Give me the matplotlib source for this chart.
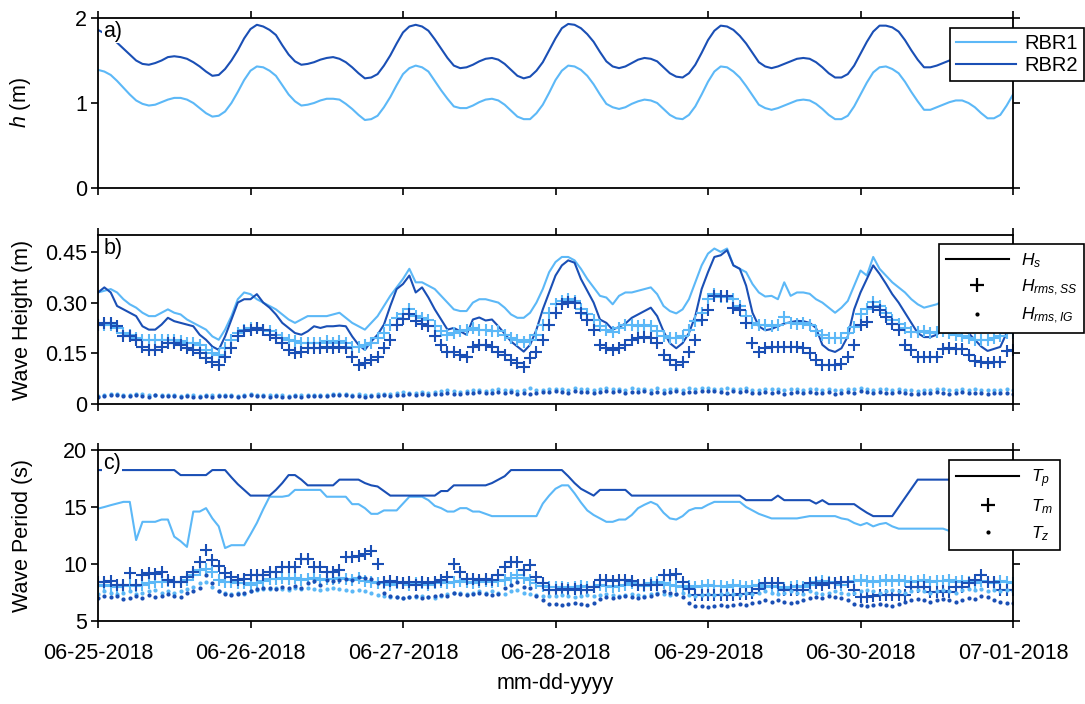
import matplotlib as mpl
mpl.use('Agg')
import matplotlib.pyplot as plt
from matplotlib.lines import Line2D
import pandas as pd

mpl.rcParams.update({
    'font.family': 'Liberation Sans',
    'mathtext.fontset': 'custom',
    'mathtext.rm': 'Liberation Sans',
    'mathtext.it': 'Liberation Sans:italic',
    'axes.linewidth': 1.3,
    'xtick.direction': 'out',
    'ytick.direction': 'out',
    'xtick.major.size': 5,
    'ytick.major.size': 5,
    'xtick.major.width': 1.2,
    'ytick.major.width': 1.2,
})

LIGHT = '#5cb8f7'
DARK = '#1a4fb5'

# hourly time axis, 06-25 00:00 to 07-01 00:00
t = pd.date_range('2018-06-25', periods=145, freq='h')

# --- panel a: water depth (m) ---
h_rbr1 = [1.39, 1.37, 1.33, 1.26, 1.18, 1.10, 1.03, 0.99, 0.97, 0.98, 1.01, 1.04,
          1.06, 1.06, 1.04, 1.00, 0.94, 0.88, 0.84, 0.85, 0.90, 1.00, 1.13, 1.27,
          1.38, 1.43, 1.42, 1.38, 1.32, 1.21, 1.10, 1.02, 0.97, 0.98, 1.00, 1.03,
          1.05, 1.05, 1.04, 0.99, 0.93, 0.86, 0.80, 0.81, 0.85, 0.95, 1.07, 1.21,
          1.34, 1.41, 1.44, 1.42, 1.37, 1.26, 1.15, 1.05, 0.96, 0.94, 0.94, 0.97,
          1.01, 1.04, 1.05, 1.03, 0.98, 0.91, 0.84, 0.81, 0.81, 0.88, 0.98, 1.12,
          1.27, 1.38, 1.44, 1.43, 1.39, 1.32, 1.22, 1.10, 0.99, 0.95, 0.93, 0.95,
          0.99, 1.02, 1.04, 1.03, 1.00, 0.93, 0.86, 0.82, 0.81, 0.86, 0.96, 1.10,
          1.25, 1.37, 1.43, 1.42, 1.37, 1.30, 1.20, 1.09, 0.98, 0.94, 0.92, 0.94,
          0.97, 1.00, 1.03, 1.04, 1.03, 0.99, 0.93, 0.86, 0.81, 0.81, 0.85, 0.96,
          1.10, 1.24, 1.36, 1.42, 1.43, 1.40, 1.35, 1.25, 1.13, 1.02, 0.92, 0.92,
          0.95, 0.98, 1.01, 1.03, 1.03, 1.00, 0.95, 0.88, 0.82, 0.82, 0.86, 0.97,
          1.10]
h_rbr2 = [1.86, 1.82, 1.77, 1.71, 1.64, 1.57, 1.50, 1.46, 1.45, 1.47, 1.50, 1.54,
          1.55, 1.54, 1.52, 1.48, 1.43, 1.37, 1.32, 1.33, 1.40, 1.50, 1.62, 1.76,
          1.87, 1.92, 1.90, 1.86, 1.80, 1.68, 1.57, 1.49, 1.45, 1.46, 1.48, 1.51,
          1.53, 1.54, 1.52, 1.48, 1.42, 1.35, 1.29, 1.30, 1.34, 1.44, 1.56, 1.70,
          1.83, 1.90, 1.92, 1.90, 1.85, 1.75, 1.64, 1.53, 1.44, 1.41, 1.42, 1.45,
          1.49, 1.52, 1.53, 1.51, 1.46, 1.39, 1.32, 1.29, 1.31, 1.38, 1.48, 1.62,
          1.76, 1.88, 1.93, 1.92, 1.88, 1.81, 1.72, 1.60, 1.49, 1.43, 1.41, 1.43,
          1.47, 1.51, 1.53, 1.52, 1.49, 1.42, 1.35, 1.31, 1.30, 1.35, 1.45, 1.59,
          1.74, 1.85, 1.91, 1.90, 1.86, 1.79, 1.70, 1.59, 1.48, 1.43, 1.41, 1.43,
          1.46, 1.49, 1.52, 1.53, 1.52, 1.48, 1.42, 1.35, 1.30, 1.30, 1.34, 1.44,
          1.58, 1.72, 1.84, 1.91, 1.91, 1.89, 1.84, 1.74, 1.62, 1.51, 1.42, 1.42,
          1.44, 1.47, 1.50, 1.52, 1.52, 1.48, 1.43, 1.36, 1.30, 1.31, 1.36, 1.46,
          1.58]

# --- panel b: wave heights (m) ---
hs_rbr1 = [0.33, 0.335, 0.34, 0.33, 0.31, 0.295, 0.285, 0.27, 0.26, 0.26, 0.27, 0.28,
           0.27, 0.265, 0.25, 0.24, 0.23, 0.22, 0.20, 0.19, 0.22, 0.26, 0.31, 0.33,
           0.325, 0.31, 0.30, 0.29, 0.28, 0.265, 0.25, 0.24, 0.25, 0.26, 0.26, 0.26,
           0.26, 0.265, 0.27, 0.255, 0.24, 0.23, 0.22, 0.24, 0.26, 0.29, 0.32, 0.345,
           0.37, 0.40, 0.36, 0.36, 0.35, 0.34, 0.32, 0.30, 0.28, 0.275, 0.275, 0.30,
           0.31, 0.31, 0.305, 0.30, 0.285, 0.265, 0.255, 0.255, 0.27, 0.30, 0.34, 0.39,
           0.42, 0.435, 0.435, 0.425, 0.40, 0.37, 0.345, 0.32, 0.315, 0.295, 0.32, 0.33,
           0.33, 0.335, 0.34, 0.345, 0.325, 0.29, 0.275, 0.268, 0.28, 0.31, 0.36, 0.41,
           0.445, 0.46, 0.45, 0.46, 0.41, 0.40, 0.39, 0.355, 0.33, 0.318, 0.32, 0.31,
           0.36, 0.32, 0.33, 0.33, 0.326, 0.31, 0.30, 0.285, 0.27, 0.285, 0.305, 0.35,
           0.395, 0.38, 0.435, 0.40, 0.38, 0.36, 0.345, 0.33, 0.31, 0.295, 0.285, 0.29,
           0.295, 0.305, 0.31, 0.31, 0.30, 0.30, 0.295, 0.29, 0.28, 0.27, 0.26, 0.25,
           0.24]
hs_rbr2 = [0.33, 0.345, 0.33, 0.29, 0.28, 0.27, 0.26, 0.23, 0.22, 0.22, 0.235, 0.255,
           0.245, 0.24, 0.235, 0.23, 0.205, 0.19, 0.17, 0.16, 0.20, 0.25, 0.30, 0.31,
           0.31, 0.325, 0.30, 0.285, 0.265, 0.24, 0.225, 0.21, 0.205, 0.215, 0.23, 0.225,
           0.23, 0.23, 0.232, 0.23, 0.20, 0.175, 0.16, 0.185, 0.205, 0.235, 0.29, 0.34,
           0.355, 0.38, 0.33, 0.345, 0.315, 0.28, 0.25, 0.22, 0.225, 0.215, 0.205, 0.25,
           0.256, 0.247, 0.25, 0.23, 0.208, 0.185, 0.17, 0.155, 0.175, 0.22, 0.28, 0.33,
           0.38, 0.41, 0.425, 0.418, 0.37, 0.335, 0.30, 0.25, 0.24, 0.22, 0.228, 0.238,
           0.255, 0.265, 0.275, 0.285, 0.26, 0.215, 0.18, 0.165, 0.18, 0.21, 0.26, 0.34,
           0.39, 0.435, 0.44, 0.455, 0.41, 0.40, 0.35, 0.27, 0.23, 0.218, 0.222, 0.23,
           0.238, 0.242, 0.246, 0.245, 0.24, 0.225, 0.175, 0.16, 0.154, 0.165, 0.20, 0.28,
           0.33, 0.37, 0.41, 0.385, 0.356, 0.325, 0.30, 0.27, 0.24, 0.21, 0.198, 0.198,
           0.205, 0.22, 0.225, 0.22, 0.215, 0.21, 0.19, 0.17, 0.157, 0.163, 0.169, 0.21,
           0.24]
ss_rbr1 = [0.235, 0.235, 0.235, 0.225, 0.21, 0.205, 0.195, 0.19, 0.19, 0.19, 0.19, 0.19,
           0.19, 0.185, 0.18, 0.18, 0.175, 0.16, 0.15, 0.145, 0.165, 0.19, 0.21, 0.22,
           0.225, 0.225, 0.22, 0.215, 0.205, 0.195, 0.19, 0.185, 0.18, 0.18, 0.18, 0.18,
           0.185, 0.18, 0.185, 0.18, 0.17, 0.17, 0.175, 0.18, 0.195, 0.21, 0.235, 0.255,
           0.265, 0.28, 0.26, 0.255, 0.248, 0.23, 0.215, 0.205, 0.21, 0.215, 0.22, 0.225,
           0.22, 0.22, 0.215, 0.215, 0.205, 0.195, 0.188, 0.184, 0.19, 0.205, 0.235, 0.27,
           0.295, 0.305, 0.31, 0.305, 0.28, 0.265, 0.25, 0.23, 0.22, 0.213, 0.225, 0.233,
           0.235, 0.232, 0.235, 0.23, 0.215, 0.20, 0.194, 0.194, 0.20, 0.218, 0.245, 0.27,
           0.31, 0.325, 0.318, 0.318, 0.31, 0.29, 0.26, 0.24, 0.233, 0.233, 0.23, 0.235,
           0.258, 0.24, 0.238, 0.24, 0.235, 0.215, 0.205, 0.195, 0.194, 0.196, 0.21, 0.228,
           0.265, 0.28, 0.302, 0.29, 0.268, 0.25, 0.238, 0.225, 0.213, 0.213, 0.215, 0.21,
           0.213, 0.215, 0.21, 0.205, 0.20, 0.195, 0.19, 0.19, 0.19, 0.195, 0.20, 0.21,
           0.21]
ss_rbr2 = [0.235, 0.24, 0.24, 0.23, 0.20, 0.20, 0.19, 0.17, 0.16, 0.16, 0.17, 0.18,
           0.18, 0.175, 0.165, 0.16, 0.15, 0.135, 0.125, 0.115, 0.14, 0.165, 0.20, 0.215,
           0.22, 0.225, 0.22, 0.205, 0.195, 0.18, 0.16, 0.15, 0.155, 0.165, 0.165, 0.165,
           0.17, 0.165, 0.17, 0.165, 0.14, 0.115, 0.12, 0.13, 0.14, 0.165, 0.19, 0.235,
           0.252, 0.265, 0.245, 0.238, 0.23, 0.20, 0.175, 0.155, 0.155, 0.145, 0.14, 0.17,
           0.174, 0.174, 0.17, 0.155, 0.145, 0.13, 0.12, 0.11, 0.135, 0.155, 0.19, 0.235,
           0.27, 0.295, 0.302, 0.30, 0.27, 0.25, 0.22, 0.175, 0.165, 0.16, 0.165, 0.175,
           0.188, 0.195, 0.198, 0.195, 0.18, 0.145, 0.13, 0.115, 0.125, 0.155, 0.19, 0.25,
           0.277, 0.32, 0.32, 0.32, 0.285, 0.277, 0.24, 0.18, 0.155, 0.165, 0.17, 0.17,
           0.17, 0.17, 0.17, 0.165, 0.15, 0.13, 0.115, 0.115, 0.115, 0.118, 0.14, 0.175,
           0.233, 0.243, 0.287, 0.277, 0.258, 0.238, 0.218, 0.175, 0.16, 0.14, 0.14, 0.138,
           0.14, 0.162, 0.165, 0.164, 0.162, 0.145, 0.128, 0.125, 0.122, 0.125, 0.125, 0.158,
           0.16]
ig_rbr1 = [0.025, 0.027, 0.029, 0.030, 0.028, 0.027, 0.030, 0.029, 0.026, 0.028, 0.027, 0.026,
           0.028, 0.025, 0.027, 0.026, 0.025, 0.027, 0.026, 0.027, 0.026, 0.028, 0.025, 0.027,
           0.030, 0.028, 0.027, 0.026, 0.027, 0.026, 0.025, 0.027, 0.026, 0.027, 0.028, 0.027,
           0.027, 0.029, 0.031, 0.030, 0.028, 0.029, 0.027, 0.028, 0.030, 0.031, 0.030, 0.033,
           0.035, 0.034, 0.033, 0.036, 0.034, 0.035, 0.038, 0.040, 0.037, 0.036, 0.039, 0.041,
           0.042, 0.039, 0.041, 0.043, 0.040, 0.042, 0.038, 0.041, 0.046, 0.040, 0.042, 0.044,
           0.045, 0.043, 0.042, 0.047, 0.044, 0.043, 0.041, 0.044, 0.046, 0.043, 0.045, 0.042,
           0.047, 0.043, 0.045, 0.042, 0.048, 0.041, 0.043, 0.045, 0.042, 0.047, 0.044, 0.046,
           0.047, 0.045, 0.044, 0.046, 0.045, 0.043, 0.046, 0.042, 0.041, 0.044, 0.043, 0.045,
           0.041, 0.043, 0.044, 0.042, 0.045, 0.043, 0.041, 0.044, 0.040, 0.042, 0.045, 0.043,
           0.046, 0.044, 0.042, 0.045, 0.043, 0.041, 0.044, 0.042, 0.040, 0.039, 0.042, 0.041,
           0.045, 0.043, 0.040, 0.042, 0.044, 0.041, 0.043, 0.042, 0.040, 0.042, 0.041, 0.043,
           0.040]
ig_rbr2 = [0.022, 0.024, 0.026, 0.027, 0.025, 0.023, 0.027, 0.025, 0.021, 0.026, 0.024, 0.023,
           0.025, 0.022, 0.024, 0.021, 0.022, 0.023, 0.022, 0.024, 0.023, 0.024, 0.021, 0.024,
           0.026, 0.025, 0.024, 0.022, 0.023, 0.022, 0.021, 0.023, 0.022, 0.023, 0.025, 0.024,
           0.023, 0.026, 0.028, 0.027, 0.024, 0.025, 0.022, 0.024, 0.025, 0.026, 0.024, 0.027,
           0.028, 0.029, 0.027, 0.030, 0.028, 0.029, 0.031, 0.033, 0.031, 0.029, 0.032, 0.033,
           0.035, 0.032, 0.034, 0.036, 0.033, 0.035, 0.031, 0.034, 0.030, 0.033, 0.035, 0.036,
           0.037, 0.036, 0.034, 0.038, 0.036, 0.035, 0.033, 0.036, 0.038, 0.035, 0.037, 0.034,
           0.036, 0.035, 0.037, 0.034, 0.036, 0.033, 0.035, 0.037, 0.034, 0.036, 0.035, 0.038,
           0.039, 0.037, 0.036, 0.034, 0.037, 0.035, 0.038, 0.033, 0.032, 0.035, 0.034, 0.036,
           0.031, 0.034, 0.035, 0.033, 0.036, 0.034, 0.032, 0.035, 0.030, 0.033, 0.036, 0.034,
           0.037, 0.035, 0.033, 0.036, 0.034, 0.032, 0.035, 0.033, 0.031, 0.030, 0.033, 0.032,
           0.036, 0.034, 0.031, 0.033, 0.035, 0.032, 0.034, 0.033, 0.031, 0.033, 0.032, 0.034,
           0.031]

# --- panel c: wave periods (s) ---
tp_rbr1 = [14.86, 15.0, 15.16, 15.3, 15.45, 15.45, 12.1, 13.7, 13.7, 13.7, 13.9, 13.9,
           12.4, 12.0, 11.5, 14.6, 14.6, 14.9, 14.0, 13.3, 11.4, 11.65, 11.65, 11.65,
           12.6, 13.6, 14.8, 15.9, 15.9, 15.9, 16.0, 16.5, 16.5, 16.5, 16.5, 16.5,
           15.9, 15.9, 15.9, 15.9, 15.25, 15.25, 14.9, 14.4, 14.4, 14.7, 14.7, 14.7,
           15.3, 15.9, 15.9, 15.9, 15.6, 15.1, 14.9, 14.6, 14.6, 14.9, 14.9, 14.6,
           14.6, 14.4, 14.2, 14.2, 14.2, 14.2, 14.2, 14.2, 14.2, 14.2, 15.3, 16.0,
           16.6, 16.9, 16.9, 16.2, 15.4, 14.7, 14.3, 14.0, 13.7, 13.7, 13.9, 13.9,
           14.3, 14.9, 15.2, 15.45, 15.2, 14.5, 14.0, 13.9, 14.2, 14.7, 14.9, 14.9,
           15.2, 15.45, 15.45, 15.45, 15.45, 15.45, 15.0, 14.7, 14.4, 14.2, 14.0, 14.0,
           14.0, 14.0, 14.0, 14.1, 14.2, 14.2, 14.2, 14.2, 14.2, 14.0, 13.9, 13.6,
           13.4, 13.6, 13.3, 13.5, 13.6, 13.3, 13.1, 13.1, 13.1, 13.1, 13.1, 13.1,
           13.1, 13.1, 12.9, 12.7, 12.7, 12.7, 12.7, 12.7, 12.7, 12.7, 12.7, 12.7,
           12.7]
tp_rbr2 = [18.24, 18.24, 18.24, 18.24, 18.24, 18.24, 18.24, 18.24, 18.24, 18.24, 18.24, 18.24,
           18.24, 17.8, 17.8, 17.8, 17.8, 17.8, 18.24, 18.24, 18.24, 17.6, 17.0, 16.5,
           16.0, 16.0, 16.0, 16.0, 16.5, 17.1, 17.8, 17.8, 17.4, 16.9, 16.9, 16.9,
           16.9, 16.9, 17.4, 17.4, 17.4, 17.4, 17.1, 16.9, 16.8, 16.4, 16.0, 16.0,
           16.0, 16.0, 16.0, 16.0, 16.0, 16.0, 16.4, 16.4, 16.9, 16.9, 16.9, 16.9,
           16.9, 16.9, 17.1, 17.4, 17.7, 18.24, 18.24, 18.24, 18.24, 18.24, 18.24, 18.24,
           18.24, 18.24, 17.7, 17.1, 16.6, 16.3, 16.0, 16.5, 16.5, 16.5, 16.5, 16.5,
           16.0, 16.0, 16.0, 16.0, 16.0, 16.0, 16.0, 16.0, 16.0, 16.0, 16.0, 16.0,
           16.0, 16.0, 16.0, 16.0, 16.0, 16.0, 15.6, 15.6, 15.6, 15.6, 15.6, 16.0,
           15.6, 15.6, 15.6, 15.6, 15.6, 15.3, 15.6, 15.25, 15.25, 15.25, 15.25, 15.25,
           14.86, 14.5, 14.2, 14.2, 14.2, 14.2, 15.0, 15.8, 16.6, 17.4, 17.4, 17.4,
           17.4, 17.4, 17.4, 17.4, 17.4, 17.4, 17.4, 17.4, 17.4, 17.4, 17.4, 17.4,
           17.4]
tm_rbr1 = [8.1, 8.2, 8.1, 8.0, 8.1, 8.2, 8.1, 8.2, 8.3, 8.4, 8.4, 8.5,
           8.4, 8.4, 8.6, 9.0, 9.5, 9.6, 9.3, 8.6, 8.4, 8.4, 8.3, 8.3,
           8.2, 8.3, 8.5, 8.7, 8.7, 8.8, 8.7, 8.8, 8.6, 8.7, 8.8, 8.6,
           8.7, 8.7, 8.8, 8.7, 8.6, 8.8, 8.5, 8.4, 8.3, 8.3, 8.2, 8.3,
           8.3, 8.2, 8.3, 8.3, 8.2, 8.3, 8.4, 8.3, 8.4, 8.5, 8.4, 8.3,
           8.4, 8.5, 8.4, 8.5, 8.6, 8.8, 9.0, 8.8, 8.6, 8.3, 8.1, 8.0,
           8.0, 8.0, 7.9, 8.0, 8.1, 8.0, 8.0, 8.2, 8.1, 8.0, 8.1, 8.2,
           8.3, 8.2, 8.1, 8.3, 8.4, 8.3, 8.2, 8.1, 8.0, 8.1, 8.0, 8.1,
           8.2, 8.1, 8.1, 8.0, 8.2, 8.1, 8.0, 8.1, 8.2, 8.0, 8.1, 8.0,
           7.9, 8.0, 8.1, 8.0, 8.2, 8.4, 8.5, 8.4, 8.3, 8.2, 8.4, 8.5,
           8.6, 8.5, 8.4, 8.5, 8.6, 8.5, 8.6, 8.5, 8.4, 8.5, 8.6, 8.4,
           8.5, 8.5, 8.6, 8.4, 8.5, 8.4, 8.3, 8.5, 8.4, 8.3, 8.5, 8.4,
           8.3]
tm_rbr2 = [8.4, 8.4, 8.5, 8.2, 8.2, 9.2, 8.2, 9.0, 9.2, 9.1, 9.3, 8.6,
           8.4, 8.4, 8.9, 9.3, 10.2, 11.2, 10.35, 9.8, 9.2, 8.9, 8.6, 8.7,
           9.0, 9.0, 9.0, 9.3, 9.3, 9.7, 9.7, 9.7, 10.4, 10.4, 9.7, 9.75,
           9.3, 9.3, 9.5, 10.6, 10.6, 10.7, 10.9, 11.1, 10.0, 8.4, 8.5, 8.4,
           8.3, 8.4, 8.2, 8.4, 8.3, 8.4, 8.6, 8.9, 10.0, 9.3, 8.7, 8.7,
           8.6, 8.7, 8.6, 9.0, 9.7, 10.2, 10.2, 9.5, 9.9, 8.9, 8.3, 7.7,
           7.7, 7.8, 7.7, 7.8, 7.7, 7.7, 8.0, 8.6, 8.6, 8.5, 8.6, 8.6,
           8.5, 8.15, 8.2, 8.15, 8.2, 9.0, 9.0, 9.1, 8.4, 7.85, 7.25, 7.3,
           7.25, 7.25, 7.25, 7.3, 7.25, 7.4, 7.4, 7.45, 7.85, 8.3, 8.3, 8.3,
           7.7, 7.7, 7.7, 7.7, 8.3, 8.3, 8.2, 8.3, 8.3, 8.4, 8.4, 7.7,
           7.1, 7.1, 7.2, 7.25, 7.25, 7.3, 7.25, 7.25, 8.0, 8.0, 8.0, 7.55,
           7.55, 7.6, 7.55, 8.0, 8.0, 8.3, 8.6, 9.0, 8.4, 8.4, 7.7, 7.7,
           7.7]
tz_rbr1 = [7.4, 7.6, 7.5, 7.4, 7.5, 7.6, 7.4, 7.5, 7.6, 7.7, 7.5, 7.6,
           7.5, 7.6, 7.8, 8.0, 8.3, 8.4, 8.0, 7.6, 7.5, 7.4, 7.5, 7.4,
           7.6, 7.7, 7.8, 7.8, 7.9, 7.8, 7.7, 7.9, 7.8, 7.9, 7.8, 7.7,
           7.8, 7.9, 7.8, 7.7, 7.6, 7.7, 7.6, 7.5, 7.3, 7.2, 7.1, 7.1,
           7.0, 7.1, 7.1, 7.2, 7.1, 7.0, 7.2, 7.4, 7.5, 7.5, 7.4, 7.5,
           7.6, 7.5, 7.6, 7.5, 7.4, 7.6, 7.7, 7.5, 7.4, 7.3, 7.2, 7.2,
           7.2, 7.3, 7.2, 7.1, 7.2, 7.3, 7.2, 7.3, 7.4, 7.3, 7.2, 7.3,
           7.4, 7.3, 7.2, 7.4, 7.5, 7.4, 7.3, 7.4, 7.5, 7.3, 7.2, 7.3,
           7.4, 7.3, 7.4, 7.5, 7.4, 7.3, 7.5, 7.4, 7.5, 7.6, 7.5, 7.4,
           7.5, 7.6, 7.5, 7.4, 7.6, 7.5, 7.4, 7.5, 7.6, 7.5, 7.4, 7.5,
           7.6, 7.7, 7.6, 7.5, 7.6, 7.7, 7.6, 7.5, 7.6, 7.7, 7.6, 7.5,
           7.6, 7.7, 7.6, 7.5, 7.7, 7.8, 7.7, 7.8, 7.6, 7.7, 7.6, 7.7,
           7.6]
tz_rbr2 = [7.0, 7.2, 7.1, 7.2, 6.9, 7.0, 7.2, 7.0, 7.3, 7.1, 7.2, 7.4,
           7.2, 7.1, 7.5, 7.6, 7.9, 9.0, 8.3, 7.6, 7.4, 7.3, 7.4, 7.5,
           7.6, 7.8, 7.9, 7.9, 7.8, 8.0, 7.9, 8.1, 7.9, 8.3, 8.5, 8.2,
           8.6, 8.5, 8.6, 8.7, 8.6, 8.9, 8.8, 8.7, 8.3, 7.5, 7.2, 7.1,
           7.0, 7.1, 7.2, 7.0, 7.1, 7.2, 7.3, 7.2, 7.5, 7.4, 7.3, 7.4,
           7.5, 7.4, 7.3, 7.4, 7.9, 8.2, 8.4, 8.0, 7.9, 7.2, 6.8, 6.5,
           6.5, 6.4, 6.5, 6.6, 6.5, 6.4, 6.6, 6.9, 7.1, 7.0, 7.1, 7.2,
           7.1, 7.0, 7.1, 7.2, 7.4, 7.6, 7.5, 7.4, 7.1, 6.6, 6.3, 6.3,
           6.2, 6.3, 6.4, 6.3, 6.4, 6.5, 6.4, 6.6, 6.7, 6.8, 6.7, 6.8,
           6.7, 6.6, 6.7, 6.8, 7.0, 7.1, 7.0, 7.2, 7.1, 7.0, 6.8, 6.5,
           6.4, 6.3, 6.4, 6.5, 6.4, 6.3, 6.5, 6.7, 6.8, 6.9, 6.8, 6.7,
           6.8, 6.9, 6.8, 6.7, 6.8, 7.0, 6.9, 7.2, 7.1, 6.8, 6.7, 6.6,
           6.6]

day_ticks = pd.date_range('2018-06-25', '2018-07-01', freq='D')
day_labels = [d.strftime('%m-%d-%Y') for d in day_ticks]

W, H = 1085, 704
fig = plt.figure(figsize=(W / 100, H / 100), dpi=100)


def add_panel(top, bottom):
    return fig.add_axes([98 / W, 1 - bottom / H, (1013 - 98) / W, (bottom - top) / H])


ax_a = add_panel(18, 188)
ax_b = add_panel(235, 404)
ax_c = add_panel(450, 621)

LW = 1.5
ax_a.plot(t, h_rbr1, color=LIGHT, lw=LW, label='RBR1')
ax_a.plot(t, h_rbr2, color=DARK, lw=LW, label='RBR2')

ax_b.plot(t, hs_rbr1, color=LIGHT, lw=LW)
ax_b.plot(t, hs_rbr2, color=DARK, lw=LW)
ax_b.plot(t, ss_rbr1, '+', color=LIGHT, ms=9, mew=1.5)
ax_b.plot(t, ss_rbr2, '+', color=DARK, ms=9, mew=1.5)
ax_b.plot(t, ig_rbr1, 'o', color=LIGHT, ms=3, mew=0)
ax_b.plot(t, ig_rbr2, 'o', color=DARK, ms=3, mew=0)

ax_c.plot(t, tp_rbr1, color=LIGHT, lw=LW)
ax_c.plot(t, tp_rbr2, color=DARK, lw=LW)
ax_c.plot(t, tm_rbr1, '+', color=LIGHT, ms=9, mew=1.5)
ax_c.plot(t, tm_rbr2, '+', color=DARK, ms=9, mew=1.5)
ax_c.plot(t, tz_rbr1, 'o', color=LIGHT, ms=3, mew=0)
ax_c.plot(t, tz_rbr2, 'o', color=DARK, ms=3, mew=0)

FS = 15.5
panels = [
    (ax_a, (0, 2), [0, 1, 2], ['0', '1', '2'], r'$h$ (m)', 'a)'),
    (ax_b, (0, 0.5), [0, 0.15, 0.30, 0.45], ['0', '0.15', '0.30', '0.45'], 'Wave Height (m)', 'b)'),
    (ax_c, (5, 20), [5, 10, 15, 20], ['5', '10', '15', '20'], 'Wave Period (s)', 'c)'),
]
for ax, ylim, yt, ytl, ylab, tag in panels:
    ax.set_xlim(day_ticks[0], day_ticks[-1])
    ax.set_ylim(*ylim)
    ax.set_yticks(yt)
    ax.set_yticklabels(ytl, fontsize=FS)
    ax.set_xticks(day_ticks)
    ax.tick_params(top=True, right=True, pad=3)
    ax.tick_params(axis='x', pad=11)
    ax.set_ylabel(ylab, fontsize=FS)
    ax.yaxis.set_label_coords(-0.071, 0.5)
    ax.text(0.006, 0.92, tag, transform=ax.transAxes, fontsize=FS, ha='left', va='center',
            bbox=dict(boxstyle='square,pad=0.05', fc='white', ec='none'), zorder=5)
    for sp in ax.spines.values():
        sp.set_zorder(6)

ax_a.set_xticklabels([])
ax_b.set_xticklabels([])
ax_c.set_xticklabels(day_labels, fontsize=FS)
ax_c.set_xlabel('mm-dd-yyyy', fontsize=FS, labelpad=6)

leg_kw = dict(frameon=True, fancybox=False, edgecolor='black', framealpha=1,
              borderaxespad=0, bbox_transform=fig.transFigure, loc='upper right')

la = ax_a.legend(bbox_to_anchor=(1084 / W, 1 - 28 / H), fontsize=14.5, handlelength=3.0,
                 handletextpad=0.4, labelspacing=0.15, borderpad=0.3, **leg_kw)

hb = [Line2D([], [], color='k', lw=LW),
      Line2D([], [], ls='none', marker='+', color='k', ms=10, mew=1.6),
      Line2D([], [], ls='none', marker='o', color='k', ms=3, mew=0)]
lb = ax_b.legend(hb, [r'$H_s$', r'$H_{rms,SS}$', r'$H_{rms,IG}$'],
                 bbox_to_anchor=(1084 / W, 1 - 244 / H), fontsize=12.5, handlelength=3.6,
                 handletextpad=0.7, labelspacing=0.45, borderpad=0.4, **leg_kw)

hc = [Line2D([], [], color='k', lw=LW),
      Line2D([], [], ls='none', marker='+', color='k', ms=10, mew=1.6),
      Line2D([], [], ls='none', marker='o', color='k', ms=3, mew=0)]
lc = ax_c.legend(hc, [r'$T_p$', r'$T_m$', r'$T_z$'],
                 bbox_to_anchor=(1060 / W, 1 - 460 / H), fontsize=12.5, handlelength=3.6,
                 handletextpad=0.7, labelspacing=0.45, borderpad=0.4, **leg_kw)

for leg in (la, lb, lc):
    leg.get_frame().set_linewidth(1.2)
    leg.set_zorder(10)

fig.savefig('out.png', dpi=100)
